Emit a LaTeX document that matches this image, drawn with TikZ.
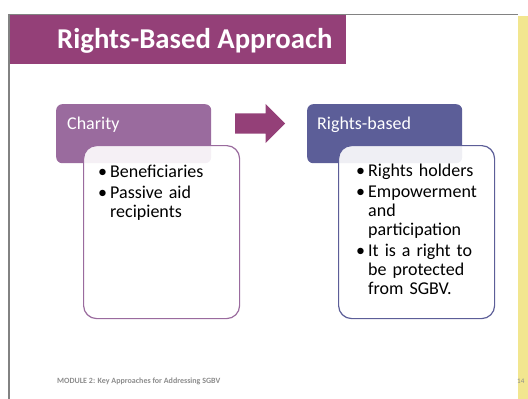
\documentclass[tikz,border=0pt]{standalone}
\usepackage{fontspec}
\setmainfont{Carlito}
\usetikzlibrary{shapes.arrows}

\definecolor{titlecol}{RGB}{148,64,120}
\definecolor{charitycol}{RGB}{154,107,158}
\definecolor{rightscol}{RGB}{92,94,152}
\definecolor{stripcol}{RGB}{242,230,143}
\definecolor{framecol}{RGB}{130,130,130}
\definecolor{footcol}{RGB}{140,140,140}

\newcommand{\bul}{\noindent\hangindent=11pt\hangafter=1\makebox[11pt][l]{\hspace{-1pt}\textbullet}}

\begin{document}
\begin{tikzpicture}[x=1pt,y=-1pt,
  hdr/.style={rounded corners=6pt, minimum width=155pt, minimum height=59pt, inner sep=0pt, anchor=north west},
  body/.style={draw, line width=1.2pt, fill=white, fill opacity=0.9, rounded corners=13pt, minimum width=156pt, minimum height=173pt, inner sep=0pt, anchor=north west},
  hdrtext/.style={text=white, font=\fontsize{18}{19}\selectfont, inner sep=0pt, anchor=base west},
  bullets/.style={text width=128pt, font=\fontsize{18}{19}\selectfont, inner sep=0pt, anchor=base west}]
\useasboundingbox (0,0) rectangle (528,399);

% frame and side strip
\path[fill=stripcol] (518,15.5) rectangle (528,399);
\path[draw=framecol, line width=1.5pt] (9,399) -- (9,14.5) -- (518,14.5);

% title
\node[fill=titlecol, minimum width=336pt, minimum height=49pt, inner sep=0pt, anchor=north west] (titlebar) at (9.75,15.25) {};
\node[text=white, font=\fontsize{28.7}{30}\selectfont\bfseries, inner sep=0pt, anchor=base west] (title) at (57,48) {Rights-Based Approach};

% charity
\node[hdr, fill=charitycol] (charity) at (56,104) {};
\node[hdrtext] (charitylbl) at (67,129) {Charity};
\node[body, draw=charitycol] (charitybody) at (83,145) {};
\node[bullets] (charitylist) at (99,177) {\raggedright\setlength{\parskip}{2pt}%
  \bul Beneficiaries\par
  \bul Passive aid\newline recipients\par};

% arrow
\node[single arrow, fill=titlecol, minimum height=50pt, inner xsep=0pt, inner ysep=10pt, single arrow head extend=9.5pt, anchor=west] (shift) at (235,123.5) {};

% rights-based
\node[hdr, fill=rightscol] (rights) at (307,104) {};
\node[hdrtext] (rightslbl) at (317,129) {Rights-based};
\node[body, draw=rightscol] (rightsbody) at (338,145) {};
\node[bullets] (rightslist) at (357,176) {\raggedright\setlength{\parskip}{2pt}%
  \bul Rights holders\par
  \bul Empowerment\newline and\newline participation\par
  \bul It is a right to\newline be protected\newline from SGBV.\par};

% footer
\node[text=footcol, font=\fontsize{8}{9}\selectfont\bfseries, inner sep=0pt, anchor=base west] (footer) at (57,383) {MODULE 2: Key Approaches for Addressing SGBV};
\node[text=footcol, font=\fontsize{7}{8}\selectfont, inner sep=0pt, anchor=base west] (page) at (517,383) {14};
\end{tikzpicture}
\end{document}
